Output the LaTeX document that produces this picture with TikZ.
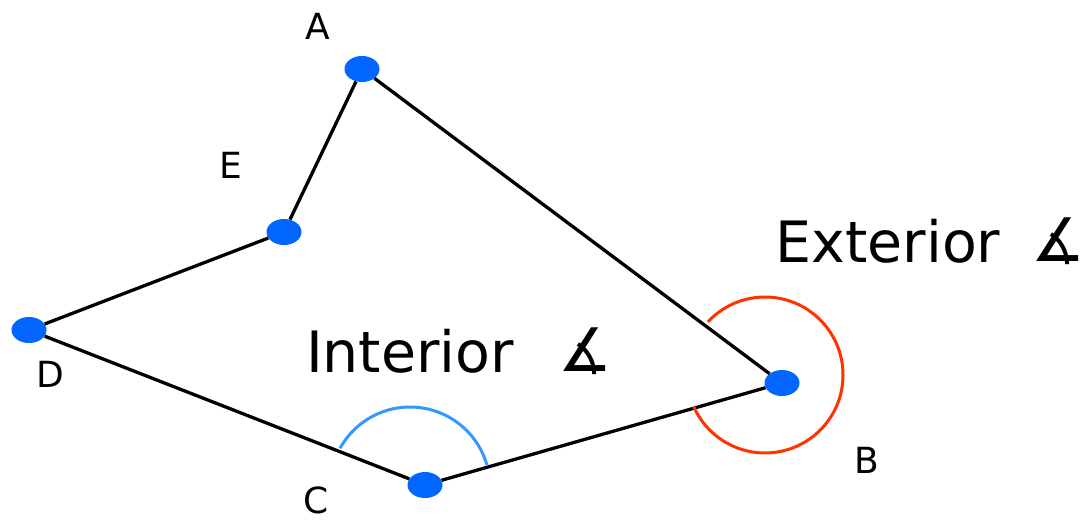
\documentclass[tikz,border=0pt]{standalone}
\usepackage{fontspec}
\setmainfont{DejaVu Sans}
\usetikzlibrary{shapes.geometric}
\definecolor{dotblue}{RGB}{0,102,255}
\definecolor{arcred}{RGB}{255,51,0}
\definecolor{arcblue}{RGB}{51,153,255}
\tikzset{
  vertex/.style={ellipse, fill=dotblue, draw=none, inner sep=0pt, minimum width=35pt, minimum height=26pt},
  edge/.style={line width=3.3pt, black},
  vlabel/.style={inner sep=0pt, font=\fontsize{36}{40}\selectfont},
  bigtext/.style={inner sep=0pt, font=\fontsize{57}{62}\selectfont},
  anglesym/.style={inner sep=0pt, font=\fontsize{60}{66}\selectfont}
}
\begin{document}
\begin{tikzpicture}[x=1pt, y=-1pt]
\useasboundingbox (0,0) rectangle (1083,520);
% vertices
\node[vertex] (A) at (362,69) {};
\node[vertex] (E) at (284,232) {};
\node[vertex] (D) at (29,330) {};
\node[vertex] (C) at (425,485) {};
\node[vertex] (B) at (782,383) {};
% edges
\draw[edge] (A) -- (E);
\draw[edge] (E) -- (D);
\draw[edge] (D) -- (C);
\draw[edge] (C) -- (B);
\draw[edge] (B) -- (A);
% angle arcs
\coordinate (cint) at (410,487);
\coordinate (cext) at (765,375);
\draw[arcblue, line width=3pt] (cint) ++(16:80 and -80) arc[start angle=-16, end angle=-151, radius=80];
\draw[arcred, line width=3pt] (cext) ++(-137:78) arc[start angle=-137, end angle=156, radius=78];
% labels
\node[vlabel] (lA) at (318,26) {A};
\node[vlabel] (lE) at (231,165) {E};
\node[vlabel] (lD) at (50,374) {D};
\node[vlabel] (lC) at (316,500) {C};
\node[vlabel] (lB) at (867,460) {B};
\node[bigtext] (tint) at (410,351) {Interior};
\node[anglesym] (sint) at (585,351) {∡};
\node[bigtext] (text) at (888,241) {Exterior};
\node[anglesym] (sext) at (1058,241) {∡};
\end{tikzpicture}
\end{document}
